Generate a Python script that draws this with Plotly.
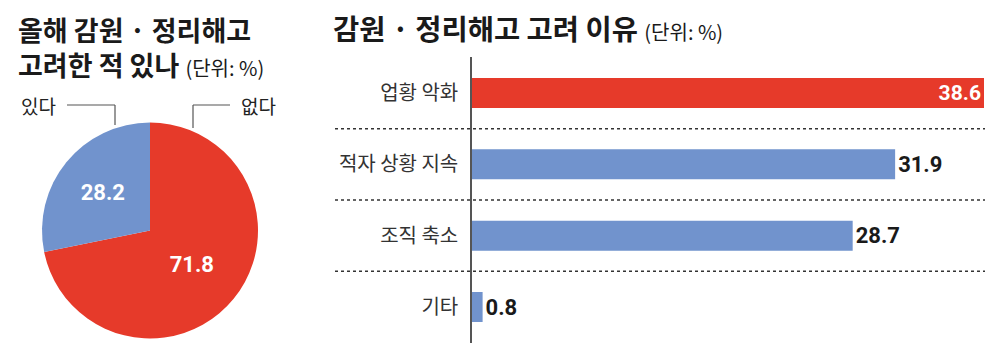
import plotly.graph_objects as go

# ---- data ----
pie_labels = ["있다", "없다"]
pie_values = [28.2, 71.8]
pie_colors = ["#7193CD", "#E63A2A"]

bar_categories = ["업황 악화", "적자 상황 지속", "조직 축소", "기타"]
bar_values = [38.6, 31.9, 28.7, 0.8]
bar_colors = ["#E63A2A", "#7193CD", "#7193CD", "#7193CD"]
bar_text_pos = ["inside", "outside", "outside", "outside"]

left_title_1 = "올해 감원 · 정리해고"
left_title_2 = "고려한 적 있나"
right_title = "감원 · 정리해고 고려 이유"
unit_text = "(단위: %)"

# ---- layout helpers ----
W, H = 1000, 354
def px(x):
    return x / W
def py(y):
    return 1 - y / H

KR = "Noto Sans CJK KR, Noto Sans, sans-serif"
NUM = "Roboto, Arial, sans-serif"

fig = go.Figure()

# plotly draws the first slice clockwise from 12 o'clock, so feed the
# slices in reverse to get "있다" ending at 12 o'clock on the left side
fig.add_trace(go.Pie(
    labels=pie_labels[::-1], values=pie_values[::-1], sort=False,
    direction="clockwise", rotation=0,
    marker=dict(colors=pie_colors[::-1], line=dict(width=0)),
    texttemplate="%{value:.1f}", textposition="inside",
    insidetextfont=dict(color="white", size=22, family=NUM, weight="bold"),
    domain=dict(x=[px(42), px(258)], y=[py(339), py(122)]),
    showlegend=False, hoverinfo="skip",
))

fig.add_trace(go.Bar(
    x=bar_values, y=bar_categories, orientation="h",
    marker=dict(color=bar_colors, line=dict(width=0)),
    width=0.42,
    text=[f"{v:.1f}" for v in bar_values],
    textposition=bar_text_pos, insidetextanchor="end",
    insidetextfont=dict(color="white", size=22, family=NUM, weight="bold"),
    outsidetextfont=dict(color="#1a1a1a", size=22, family=NUM, weight="bold"),
    cliponaxis=False, showlegend=False, hoverinfo="skip",
))

shapes = []
for yv in [0.5, 1.5, 2.5]:
    shapes.append(dict(type="line", xref="paper", yref="y",
                       x0=px(335), x1=px(985), y0=yv, y1=yv,
                       line=dict(color="#333333", width=1.5, dash="dot")))
for (x0, y0, x1, y1) in [(67, 105, 115, 105), (115, 105, 115, 125),
                         (193, 105, 230, 105), (193, 105, 193, 128)]:
    shapes.append(dict(type="line", xref="paper", yref="paper",
                       x0=px(x0), x1=px(x1), y0=py(y0), y1=py(y1),
                       line=dict(color="#555555", width=1.2)))

TITLE_FONT = dict(size=27, family=KR, color="#1a1a1a")
UNIT_SPAN = "<span style='font-size:20px;font-weight:normal'>{}</span>"

ann = []
ann.append(dict(x=px(16), y=py(47), xref="paper", yref="paper",
                xanchor="left", yanchor="middle", showarrow=False, align="left",
                text=f"<b>{left_title_1}</b><br><b>{left_title_2}</b> " + UNIT_SPAN.format(unit_text),
                font=TITLE_FONT))
ann.append(dict(x=px(331), y=py(27), xref="paper", yref="paper",
                xanchor="left", yanchor="middle", showarrow=False,
                text=f"<b>{right_title}</b> " + UNIT_SPAN.format(unit_text),
                font=dict(size=28.5, family=KR, color="#1a1a1a")))
ann.append(dict(x=px(19), y=py(105), xref="paper", yref="paper",
                xanchor="left", yanchor="middle", showarrow=False,
                text=pie_labels[0], font=dict(size=19, family=KR, color="#222222")))
ann.append(dict(x=px(239), y=py(105), xref="paper", yref="paper",
                xanchor="left", yanchor="middle", showarrow=False,
                text=pie_labels[1], font=dict(size=19, family=KR, color="#222222")))

fig.update_layout(
    width=W, height=H, autosize=False,
    margin=dict(l=0, r=0, t=0, b=0),
    paper_bgcolor="white", plot_bgcolor="white",
    font=dict(family=KR, color="#222222"),
    xaxis=dict(domain=[px(472), px(984)], range=[0, 38.6],
               showgrid=False, zeroline=False, showticklabels=False,
               showline=False, fixedrange=True),
    yaxis=dict(domain=[py(342.7), py(57.3)], range=[3.5, -0.5],
               type="category", showgrid=False, zeroline=False,
               showline=True, linecolor="#555555", linewidth=1.5,
               ticks="", ticklabelstandoff=8, automargin=False,
               tickfont=dict(size=20, family=KR, color="#333333")),
    shapes=shapes, annotations=ann,
)

fig.write_html("out.html")
